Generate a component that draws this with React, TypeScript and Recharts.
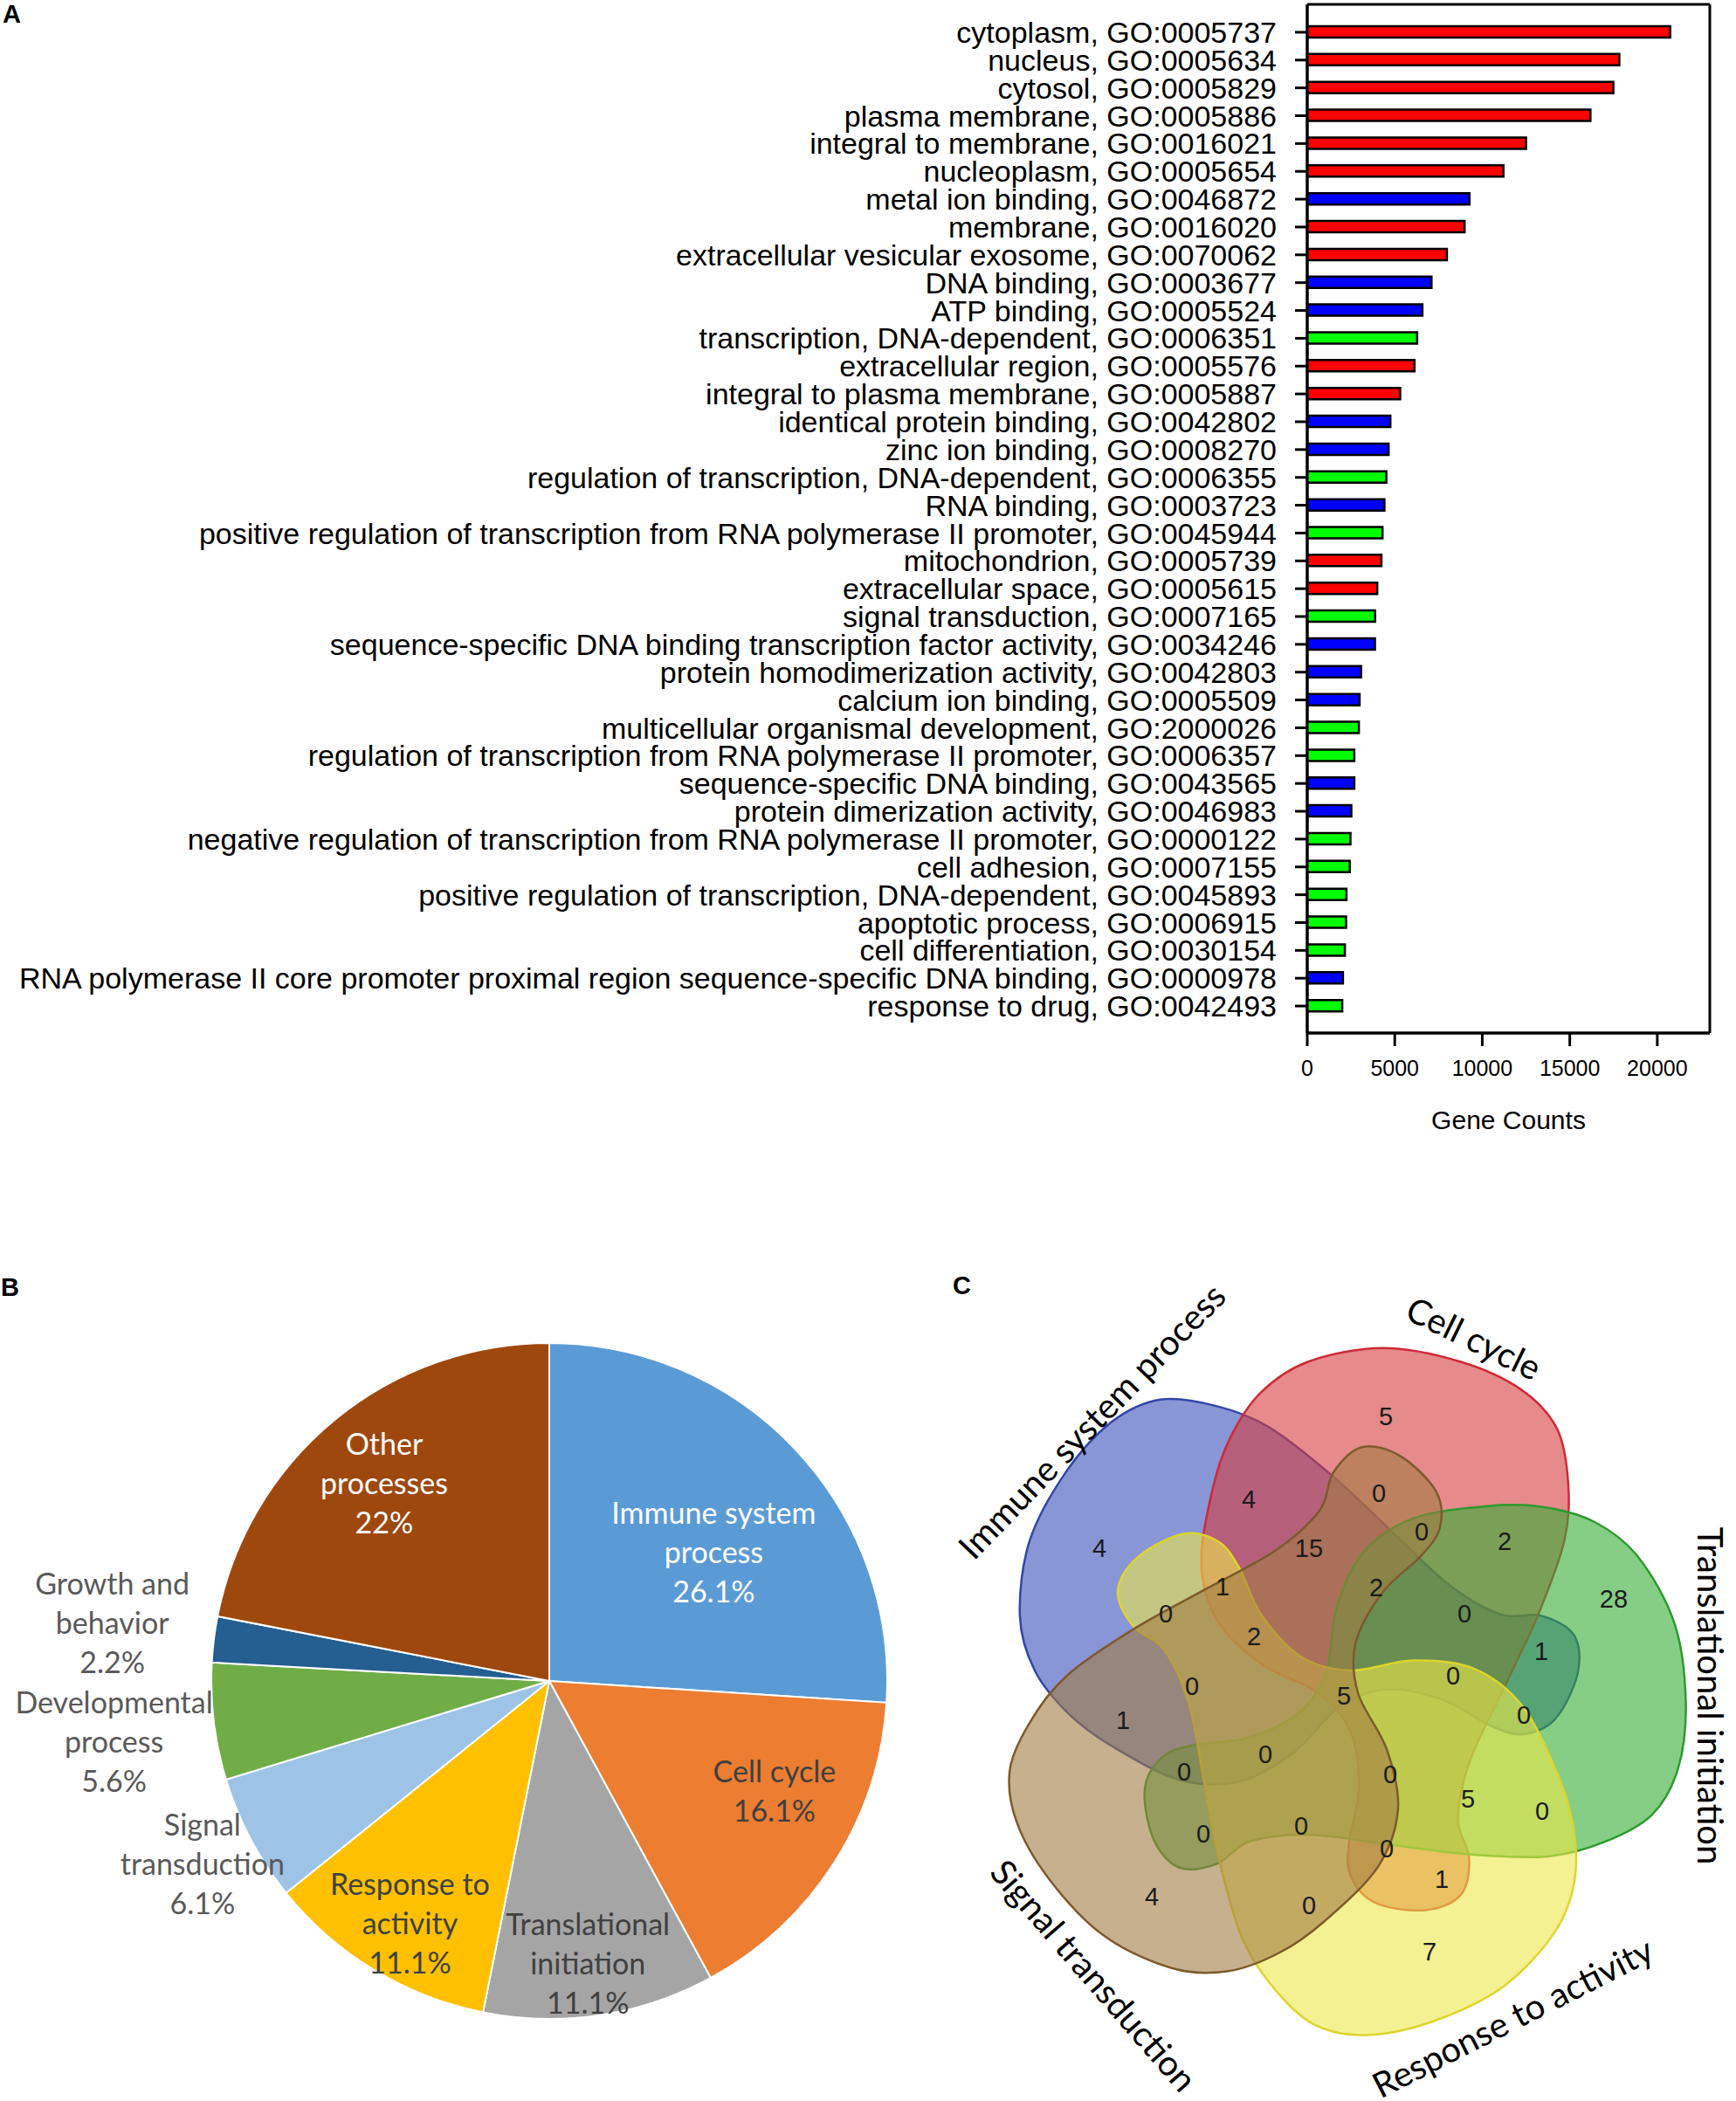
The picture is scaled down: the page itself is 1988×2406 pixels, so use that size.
import React from 'react';
import { Bar, BarChart, CartesianGrid, Cell, Pie, PieChart, Scatter, ScatterChart, XAxis, YAxis } from 'recharts';

// ---- panel A: GO terms ----
const GO_TERMS = [
  'cytoplasm',
  'nucleus',
  'cytosol',
  'plasma membrane',
  'integral to membrane',
  'nucleoplasm',
  'metal ion binding',
  'membrane',
  'extracellular vesicular exosome',
  'DNA binding',
  'ATP binding',
  'transcription, DNA-dependent',
  'extracellular region',
  'integral to plasma membrane',
  'identical protein binding',
  'zinc ion binding',
  'regulation of transcription, DNA-dependent',
  'RNA binding',
  'positive regulation of transcription from RNA polymerase II promoter',
  'mitochondrion',
  'extracellular space',
  'signal transduction',
  'sequence-specific DNA binding transcription factor activity',
  'protein homodimerization activity',
  'calcium ion binding',
  'multicellular organismal development',
  'regulation of transcription from RNA polymerase II promoter',
  'sequence-specific DNA binding',
  'protein dimerization activity',
  'negative regulation of transcription from RNA polymerase II promoter',
  'cell adhesion',
  'positive regulation of transcription, DNA-dependent',
  'apoptotic process',
  'cell differentiation',
  'RNA polymerase II core promoter proximal region sequence-specific DNA binding',
  'response to drug',
];

const GO_IDS = [
  'GO:0005737', 'GO:0005634', 'GO:0005829', 'GO:0005886', 'GO:0016021', 'GO:0005654',
  'GO:0046872', 'GO:0016020', 'GO:0070062', 'GO:0003677', 'GO:0005524', 'GO:0006351',
  'GO:0005576', 'GO:0005887', 'GO:0042802', 'GO:0008270', 'GO:0006355', 'GO:0003723',
  'GO:0045944', 'GO:0005739', 'GO:0005615', 'GO:0007165', 'GO:0034246', 'GO:0042803',
  'GO:0005509', 'GO:2000026', 'GO:0006357', 'GO:0043565', 'GO:0046983', 'GO:0000122',
  'GO:0007155', 'GO:0045893', 'GO:0006915', 'GO:0030154', 'GO:0000978', 'GO:0042493',
];

const GENE_COUNTS = [
  20740, 17830, 17490, 16180, 12500, 11210, 9270, 8990, 7980, 7100, 6580, 6280,
  6130, 5310, 4750, 4650, 4520, 4410, 4300, 4240, 4000, 3880, 3870, 3080,
  2990, 2950, 2690, 2690, 2520, 2470, 2430, 2240, 2220, 2150, 2040, 2000,
];

// CC = cellular component, MF = molecular function, BP = biological process
const GO_ONTOLOGY = [
  'CC', 'CC', 'CC', 'CC', 'CC', 'CC', 'MF', 'CC', 'CC', 'MF', 'MF', 'BP',
  'CC', 'CC', 'MF', 'MF', 'BP', 'MF', 'BP', 'CC', 'CC', 'BP', 'MF', 'MF',
  'MF', 'BP', 'BP', 'MF', 'MF', 'BP', 'BP', 'BP', 'BP', 'BP', 'MF', 'BP',
];

const COUNT_TICKS = [0, 5000, 10000, 15000, 20000];

const ONTOLOGY_COLORS: Record<string, string> = { CC: '#ff0000', MF: '#0000ff', BP: '#00ff00' };

// ---- panel B: process share ----
const PIE_LABEL_LINES = [
  ['Immune system', 'process'],
  ['Cell cycle'],
  ['Translational', 'initiation'],
  ['Response to', 'activity'],
  ['Signal', 'transduction'],
  ['Developmental', 'process'],
  ['Growth and', 'behavior'],
  ['Other', 'processes'],
];
const PIE_PERCENT = [26.1, 16.1, 11.1, 11.1, 6.1, 5.6, 2.2, 22];

const PIE_COLORS = ['#5b9bd5', '#ed7d31', '#a5a5a5', '#ffc000', '#9dc3e6', '#70ad47', '#255e91', '#9e480e'];
// label radius (x outerRadius), angle nudge, text colour
const PIE_LABEL_LAYOUT: [number, number, string][] = [
  [0.62, -4.9, '#ffffff'],
  [0.74, 6.8, '#404040'],
  [0.84, -0.8, '#404040'],
  [0.824, 1.2, '#404040'],
  [1.158, -0.3, '#595959'],
  [1.3, 0.9, '#595959'],
  [1.305, -0.7, '#595959'],
  [0.765, 0.2, '#ffffff'],
];

// ---- panel C: five-set Venn ----
const VENN_SETS = ['Immune system process', 'Cell cycle', 'Translational initiation', 'Response to activity', 'Signal transduction'];
const VENN_COUNTS = [5, 4, 4, 0, 15, 0, 2, 28, 1, 2, 0, 0, 2, 1, 0, 0, 5, 0, 1, 0, 0, 0, 5, 0, 0, 0, 0, 1, 4, 0, 7];

const VENN_COUNT_POS = [
  [527, 202], [199, 353], [370, 297], [519, 290], [439, 353], [568, 334], [663, 345], [788, 411],
  [340, 397], [516, 398], [275, 428], [617, 428], [376, 454], [705, 471], [604, 499], [305, 511],
  [479, 522], [685, 544], [226, 550], [389, 589], [296, 609], [532, 612], [621, 640], [706, 654],
  [318, 680], [430, 671], [528, 697], [591, 732], [259, 752], [439, 762], [577, 815],
];
const VENN_CENTER = [473, 512];
const VENN_LOBE_ANGLE = [-149.5, -77.5, -5.5, 66.5, 138.5];
const VENN_FILL = ['#3950bb', '#d53c3f', '#35ad35', '#ede84a', '#a27b43'];
const VENN_STROKE = ['#3346a8', '#cf2a36', '#2d9a2d', '#ddd52c', '#7d5a2c'];
const VENN_LABEL_POS = [[190, 207, -46], [628, 112, 26], [899, 522, 90], [672, 890, -27], [193, 842, 49]];

// one set outline, lobe pointing up, centred on the diagram centre
const BLOB = [
  [-184, -103], [-190, -190], [-183, -252], [-160, -310], [-115, -356], [-35, -390], [55, -394],
  [130, -378], [180, -343], [206, -285], [216, -220], [205, -130], [185, -40], [165, 50],
  [166, 118], [188, 158], [188, 202], [152, 228], [94, 232], [60, 208], [50, 170], [48, 110],
  [25, 48], [-20, 12], [-90, -6], [-150, -42],
];

const RAD = Math.PI / 180;

const barData = GO_TERMS.map((t, i) => ({
  name: `${t}, ${GO_IDS[i]}`,
  value: GENE_COUNTS[i],
  ont: GO_ONTOLOGY[i],
}));

const pieData = PIE_LABEL_LINES.map((l, i) => ({ name: l.join(' '), value: PIE_PERCENT[i] }));

const vennSetData = VENN_SETS.map((name, i) => ({ x: VENN_CENTER[0], y: VENN_CENTER[1], name, i }));
const vennCountData = VENN_COUNTS.map((v, i) => ({ x: VENN_COUNT_POS[i][0], y: VENN_COUNT_POS[i][1], v }));
const vennLabelData = VENN_SETS.map((name, i) => ({
  x: VENN_LABEL_POS[i][0],
  y: VENN_LABEL_POS[i][1],
  rot: VENN_LABEL_POS[i][2],
  name,
}));

function smoothClosed(pts: number[][]): string {
  const n = pts.length;
  const f = (v: number) => v.toFixed(1);
  let d = `M${f(pts[0][0])},${f(pts[0][1])}`;
  for (let i = 0; i < n; i++) {
    const p0 = pts[(i - 1 + n) % n];
    const p1 = pts[i];
    const p2 = pts[(i + 1) % n];
    const p3 = pts[(i + 2) % n];
    const c1x = p1[0] + (p2[0] - p0[0]) / 6;
    const c1y = p1[1] + (p2[1] - p0[1]) / 6;
    const c2x = p2[0] - (p3[0] - p1[0]) / 6;
    const c2y = p2[1] - (p3[1] - p1[1]) / 6;
    d += `C${f(c1x)},${f(c1y)} ${f(c2x)},${f(c2y)} ${f(p2[0])},${f(p2[1])}`;
  }
  return d + 'Z';
}

function VennBlob(props: any) {
  const { cx, cy, payload } = props;
  const i = payload.i;
  const t = (VENN_LOBE_ANGLE[i] + 90) * RAD;
  const c = Math.cos(t);
  const s = Math.sin(t);
  const pts = BLOB.map(([x, y]) => [cx + x * c - y * s, cy + x * s + y * c]);
  return (
    <path d={smoothClosed(pts)} fill={VENN_FILL[i]} fillOpacity={0.6} stroke={VENN_STROKE[i]} strokeWidth={2.5} />
  );
}

function VennCount(props: any) {
  const { cx, cy, payload } = props;
  return (
    <text x={cx} y={cy} textAnchor="middle" dominantBaseline="central" fontSize={29} fill="#1a1a1a"
      fontFamily='"Liberation Sans", Arial, sans-serif'>
      {payload.v}
    </text>
  );
}

function VennLabel(props: any) {
  const { cx, cy, payload } = props;
  return (
    <text x={cx} y={cy} textAnchor="middle" dominantBaseline="central" fontSize={40} fill="#000"
      fontFamily="Lato, sans-serif" transform={`rotate(${payload.rot} ${cx} ${cy})`}>
      {payload.name}
    </text>
  );
}

function PieLabel(props: any) {
  const { cx, cy, midAngle, outerRadius, index } = props;
  const [rf, da, color] = PIE_LABEL_LAYOUT[index];
  const a = (midAngle + da) * RAD;
  const r = outerRadius * rf;
  const x = cx + r * Math.cos(a);
  const y = cy - r * Math.sin(a);
  const lines = [...PIE_LABEL_LINES[index], `${PIE_PERCENT[index]}%`];
  const lh = 45;
  const y0 = y - ((lines.length - 1) * lh) / 2;
  return (
    <text x={x} y={y0} fill={color} textAnchor="middle" dominantBaseline="central" fontSize={34}
      fontFamily="Lato, sans-serif">
      {lines.map((l, i) => (
        <tspan key={i} x={x} y={y0 + i * lh} dominantBaseline="central">{l}</tspan>
      ))}
    </text>
  );
}

// frame round the plot area: grid lines only on its four edges
const frameRows = ({ offset }: any) => [offset.top, offset.top + offset.height];
const frameCols = ({ offset }: any) => [offset.left, offset.left + offset.width];

const panelLetter: React.CSSProperties = {
  position: 'absolute',
  fontWeight: 'bold',
  fontSize: 29,
  lineHeight: 1,
  color: '#000',
};

export default function App() {
  const frame = { stroke: '#000', strokeWidth: 3 };
  return (
    <div style={{ position: 'absolute', left: 0, top: 0, width: 1988, height: 2406, background: '#fff',
      fontFamily: '"Liberation Sans", Arial, sans-serif', overflow: 'hidden' }}>
      <div style={{ position: 'absolute', left: 0, top: 0 }}>
        <BarChart layout="vertical" width={1988} height={1310} data={barData}
          margin={{ top: 5, right: 30, bottom: 7, left: 0 }}>
          <CartesianGrid stroke="#000" strokeWidth={3} horizontalCoordinatesGenerator={frameRows}
            verticalCoordinatesGenerator={frameCols} />
          <XAxis type="number" domain={[0, 23000]} ticks={COUNT_TICKS} allowDataOverflow
            tick={{ fontSize: 25, fill: '#000' }} tickSize={15} tickMargin={16}
            tickLine={frame} axisLine={frame} height={120}
            label={{ value: 'Gene Counts', position: 'insideBottom', offset: 10, fontSize: 30, fill: '#000' }} />
          <YAxis type="category" dataKey="name" width={1497} interval={0}
            padding={{ top: 16, bottom: 15 }} tick={{ fontSize: 34, fill: '#000' }}
            tickSize={14} tickMargin={21} tickLine={frame} axisLine={frame} />
          <Bar dataKey="value" barSize={13} stroke="#000" strokeWidth={2.5} isAnimationActive={false}>
            {barData.map((d, i) => (
              <Cell key={i} fill={ONTOLOGY_COLORS[d.ont]} />
            ))}
          </Bar>
        </BarChart>
      </div>
      <div style={{ ...panelLetter, left: 3, top: 2 }}>A</div>

      <div style={{ position: 'absolute', left: 0, top: 1420 }}>
        <PieChart width={1060} height={986} margin={{ top: 0, right: 0, bottom: 0, left: 0 }}>
          <Pie data={pieData} dataKey="value" nameKey="name" cx={629} cy={505} outerRadius={387}
            startAngle={90} endAngle={-270} stroke="#ffffff" strokeWidth={2} label={PieLabel}
            labelLine={false} isAnimationActive={false}>
            {pieData.map((d, i) => (
              <Cell key={i} fill={PIE_COLORS[i]} />
            ))}
          </Pie>
        </PieChart>
      </div>
      <div style={{ ...panelLetter, left: 1, top: 1460 }}>B</div>

      <div style={{ position: 'absolute', left: 1060, top: 1420 }}>
        <ScatterChart width={928} height={986} margin={{ top: 0, right: 0, bottom: 0, left: 0 }}>
          <XAxis type="number" dataKey="x" domain={[0, 928]} hide />
          <YAxis type="number" dataKey="y" domain={[0, 986]} reversed hide />
          <Scatter data={vennSetData} shape={VennBlob} isAnimationActive={false} />
          <Scatter data={vennCountData} shape={VennCount} isAnimationActive={false} />
          <Scatter data={vennLabelData} shape={VennLabel} isAnimationActive={false} />
        </ScatterChart>
      </div>
      <div style={{ ...panelLetter, left: 1091, top: 1458 }}>C</div>
    </div>
  );
}
